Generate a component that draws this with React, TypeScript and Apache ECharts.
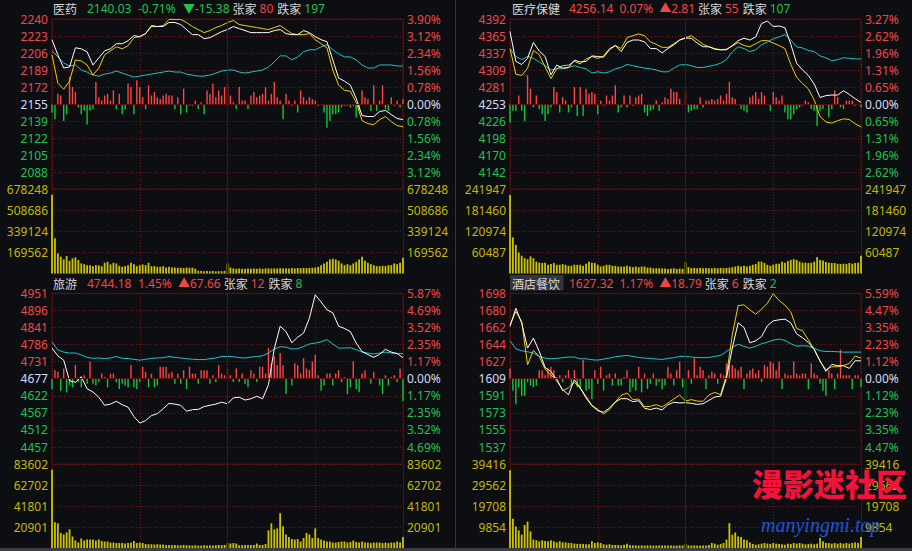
import React, { useEffect, useRef } from "react";
import * as echarts from "echarts";

// ---------- sampling of the intraday session (240 minutes) ----------
const SESSION_MIN = 240;
const LINE_STEP_MIN = 4; // one line point every 4 minutes
const BAR_STEP_MIN = 2; // one bar every 2 minutes

// ================= 医药 =================
const yyTitle = ["医药", "2140.03", "-0.71%", "▼-15.38", "80", "197"];
const yyWhite = [2219, 2204, 2191, 2192, 2211, 2210, 2207, 2194, 2201, 2208, 2210, 2215, 2215, 2218, 2223, 2222, 2225, 2233, 2232, 2232, 2236, 2236, 2234, 2229, 2224, 2224, 2220, 2221, 2224, 2227, 2229, 2232, 2230, 2228, 2226, 2226, 2226, 2226, 2228, 2229, 2225, 2224, 2224, 2228, 2226, 2222, 2219, 2217, 2199, 2181, 2178, 2174, 2161, 2144, 2143, 2143, 2148, 2149, 2145, 2141, 2140];
const yyYellow = [2204, 2176, 2170, 2178, 2199, 2198, 2194, 2184, 2191, 2204, 2208, 2212, 2210, 2213, 2221, 2222, 2225, 2232, 2232, 2233, 2239, 2239, 2239, 2236, 2232, 2229, 2226, 2228, 2231, 2233, 2236, 2238, 2234, 2233, 2232, 2231, 2230, 2229, 2231, 2233, 2229, 2225, 2224, 2224, 2225, 2219, 2215, 2211, 2189, 2174, 2169, 2168, 2157, 2139, 2136, 2135, 2140, 2143, 2138, 2134, 2133];
const yyCyan = [2208, 2202, 2196, 2193, 2194, 2189, 2187, 2184, 2183, 2185, 2186, 2188, 2186, 2184, 2182, 2183, 2184, 2185, 2186, 2187, 2188, 2187, 2187, 2185, 2184, 2183, 2183, 2184, 2186, 2188, 2189, 2189, 2187, 2186, 2187, 2188, 2189, 2192, 2197, 2203, 2203, 2199, 2202, 2207, 2209, 2209, 2212, 2214, 2209, 2205, 2202, 2202, 2199, 2194, 2191, 2191, 2194, 2194, 2194, 2193, 2193];
const yyFlow = [-5, -9, 6, 5, -10, -6, 16, 10, 7, -2, -6, -4, -12, -4, -3, 13, 4, 2, 5, 6, 2, 8, -3, 6, -6, -3, 12, 10, -6, 14, 10, 4, -3, 11, 5, 7, 4, 3, 5, 6, 5, 5, -3, 4, -6, 9, -5, -1, -1, 2, -3, 1, -6, 8, 6, 12, 4, 8, 5, 10, 12, 5, 1, -3, 10, 2, 2, -3, 5, 7, 4, 5, 6, 10, 2, 6, 13, 4, 2, -9, 6, 2, -1, 2, -5, 8, 4, 2, 4, 3, 2, -1, 0, -5, -14, -10, -6, -6, -5, -2, -1, -1, -2, -1, -8, -4, 8, 4, 3, -4, 11, -4, 2, 11, -3, -4, 4, -1, 2, -2, 3];
const yyVolume = [632000, 283000, 161000, 135000, 113000, 140000, 102000, 121000, 129000, 108000, 81000, 75000, 67000, 67000, 59000, 67000, 65000, 59000, 86000, 94000, 73000, 86000, 81000, 62000, 54000, 59000, 67000, 86000, 75000, 59000, 67000, 73000, 67000, 86000, 59000, 59000, 54000, 54000, 59000, 48000, 54000, 48000, 48000, 46000, 46000, 43000, 48000, 46000, 46000, 38000, 22000, 20000, 19000, 21000, 18000, 20000, 17000, 19000, 18000, 20000, 81000, 48000, 40000, 38000, 40000, 37000, 39000, 41000, 38000, 40000, 39000, 41000, 38000, 40000, 42000, 39000, 41000, 40000, 43000, 41000, 42000, 40000, 43000, 41000, 44000, 42000, 45000, 43000, 44000, 46000, 48000, 54000, 67000, 81000, 94000, 113000, 118000, 113000, 102000, 81000, 67000, 75000, 67000, 81000, 94000, 113000, 135000, 102000, 86000, 75000, 67000, 59000, 59000, 62000, 59000, 67000, 67000, 81000, 75000, 86000, 126000];
const yyPriceLabels = ["2240", "2223", "2206", "2189", "2172", "2155", "2139", "2122", "2105", "2088"];
const yyPctLabels = ["3.90%", "3.12%", "2.34%", "1.56%", "0.78%", "0.00%", "0.78%", "1.56%", "2.34%", "3.12%"];
const yyVolLabels = ["678248", "508686", "339124", "169562"];

// ================= 医疗保健 =================
const ylTitle = ["医疗保健", "4256.14", "0.07%", "▲2.81", "55", "107"];
const ylWhite = [4372, 4323, 4318, 4328, 4354, 4340, 4331, 4301, 4317, 4312, 4313, 4325, 4322, 4323, 4332, 4331, 4330, 4342, 4349, 4339, 4354, 4358, 4358, 4355, 4344, 4344, 4337, 4344, 4350, 4358, 4361, 4361, 4353, 4347, 4347, 4343, 4342, 4342, 4349, 4357, 4361, 4358, 4363, 4385, 4389, 4380, 4381, 4378, 4351, 4320, 4309, 4300, 4286, 4264, 4267, 4268, 4268, 4275, 4269, 4262, 4256];
const ylYellow = [4344, 4302, 4300, 4312, 4341, 4334, 4314, 4295, 4311, 4316, 4317, 4323, 4319, 4327, 4331, 4328, 4332, 4344, 4349, 4344, 4362, 4365, 4368, 4365, 4355, 4351, 4346, 4346, 4352, 4358, 4362, 4365, 4358, 4351, 4347, 4344, 4342, 4343, 4348, 4354, 4349, 4347, 4352, 4357, 4357, 4353, 4349, 4344, 4318, 4297, 4287, 4278, 4260, 4233, 4224, 4222, 4226, 4229, 4228, 4221, 4216];
const ylCyan = [4344, 4331, 4326, 4331, 4328, 4322, 4316, 4309, 4311, 4311, 4313, 4316, 4313, 4311, 4304, 4306, 4304, 4306, 4311, 4313, 4318, 4316, 4314, 4312, 4311, 4309, 4306, 4306, 4312, 4317, 4318, 4316, 4313, 4313, 4315, 4317, 4320, 4326, 4339, 4347, 4344, 4339, 4342, 4350, 4355, 4360, 4363, 4367, 4358, 4347, 4345, 4341, 4339, 4332, 4329, 4324, 4326, 4329, 4328, 4327, 4327];
const ylFlow = [-11, -4, -4, 5, -4, -10, 17, 9, -2, 5, -3, -6, -10, -6, -2, 10, 7, -5, 4, 2, -5, -2, 10, -7, 10, -7, 9, 6, 7, 6, -6, 2, -1, 5, 2, 5, 11, -5, -2, 5, -2, 5, -1, 4, 5, 6, -5, -7, -4, -3, 2, -4, 1, 4, 3, 9, 7, 7, 3, 0, 7, -5, -4, -3, -3, 4, -2, 2, 2, 3, 2, 3, 5, 2, 6, 13, 4, 3, 0, -3, -4, -5, 4, 5, 7, 3, 7, 5, 0, -4, 7, 4, 2, 5, -5, -9, -9, -6, -3, -2, -1, 2, 1, -3, -4, -13, -4, -3, 0, -8, -3, 8, 4, -2, -3, 2, 2, 2, -1, 0, -2];
const ylVolume = [225000, 103000, 82000, 60000, 51000, 44000, 41000, 49000, 44000, 34000, 31000, 30000, 31000, 25000, 27000, 30000, 25000, 25000, 27000, 25000, 22000, 22000, 25000, 25000, 25000, 22000, 28000, 34000, 31000, 30000, 25000, 20000, 22000, 25000, 25000, 22000, 22000, 20000, 20000, 20000, 22000, 20000, 18000, 20000, 18000, 20000, 20000, 17000, 17000, 15000, 15000, 15000, 14000, 14000, 13000, 14000, 15000, 13000, 14000, 13000, 32000, 18000, 16000, 16000, 15000, 16000, 15000, 16000, 15000, 15000, 16000, 15000, 16000, 15000, 16000, 17000, 18000, 20000, 22000, 20000, 22000, 20000, 22000, 25000, 27000, 34000, 34000, 30000, 25000, 22000, 25000, 28000, 28000, 34000, 31000, 36000, 39000, 41000, 39000, 34000, 31000, 31000, 30000, 31000, 34000, 47000, 39000, 37000, 33000, 31000, 30000, 30000, 28000, 27000, 28000, 27000, 30000, 28000, 30000, 31000, 51000];
const ylPriceLabels = ["4392", "4365", "4337", "4309", "4281", "4253", "4226", "4198", "4170", "4142"];
const ylPctLabels = ["3.27%", "2.62%", "1.96%", "1.31%", "0.65%", "0.00%", "0.65%", "1.31%", "1.96%", "2.62%"];
const ylVolLabels = ["241947", "181460", "120974", "60487"];

// ================= 旅游 =================
const lyTitle = ["旅游", "4744.18", "1.45%", "▲67.66", "12", "8"];
const lyWhite = [4775, 4750, 4736, 4670, 4665, 4683, 4644, 4634, 4617, 4591, 4595, 4604, 4593, 4585, 4555, 4534, 4542, 4558, 4564, 4580, 4597, 4595, 4591, 4572, 4577, 4578, 4587, 4591, 4595, 4601, 4596, 4615, 4617, 4608, 4612, 4620, 4612, 4657, 4773, 4845, 4828, 4792, 4810, 4823, 4871, 4946, 4923, 4898, 4888, 4845, 4838, 4828, 4791, 4764, 4754, 4745, 4755, 4771, 4762, 4757, 4744];
const lyCyan = [4794, 4769, 4762, 4759, 4759, 4753, 4745, 4742, 4743, 4741, 4743, 4748, 4742, 4741, 4739, 4736, 4739, 4742, 4743, 4744, 4748, 4745, 4743, 4741, 4739, 4738, 4738, 4741, 4743, 4748, 4748, 4747, 4744, 4743, 4746, 4748, 4750, 4759, 4772, 4779, 4778, 4772, 4773, 4780, 4788, 4791, 4795, 4802, 4788, 4775, 4775, 4776, 4770, 4762, 4759, 4756, 4759, 4762, 4759, 4758, 4757];
const lyFlow = [-6, 5, 4, -7, 6, -8, -4, -5, 8, -2, -5, 2, -3, 10, -3, -4, -2, 3, 1, -5, 3, 3, -2, -6, -3, -4, -5, 8, -5, -6, -2, 7, 4, -5, 3, -5, -4, 7, 7, 7, 3, 4, -3, 3, -3, 5, -6, 7, 3, 3, -3, 5, 5, 5, -3, 2, -2, 8, 3, 2, 6, 2, -2, 6, -2, 3, -3, -5, 5, 3, -2, 7, 7, 3, 18, 9, 13, 8, 15, 8, -9, 0, -4, 9, 8, 3, 12, 6, 5, 10, 14, 2, -7, -4, 3, 3, -4, 3, 5, -2, 1, -9, -5, 10, -6, -8, 3, 5, 0, -3, 4, 0, -4, -9, 2, -4, 1, 2, -2, 6, -13];
const lyVolume = [78000, 26000, 25000, 15500, 14000, 16000, 19000, 12000, 8000, 6000, 10000, 8000, 9000, 9000, 9000, 8000, 9000, 7500, 7000, 7000, 6000, 6000, 5500, 5500, 5500, 5000, 5500, 6000, 7500, 5500, 6000, 5500, 4500, 4300, 4300, 4000, 4300, 4000, 4000, 3600, 3600, 3300, 3600, 3300, 3300, 3600, 3300, 3300, 3000, 3300, 3000, 3000, 3300, 3000, 3300, 3000, 3300, 3600, 3300, 3600, 5500, 5000, 5500, 5000, 3300, 3300, 3600, 3600, 3600, 3600, 5000, 3600, 3600, 4500, 18000, 25000, 19000, 20000, 35000, 22000, 14000, 11500, 9500, 9000, 9500, 7000, 10500, 15500, 14000, 10500, 20000, 10500, 9000, 8000, 7000, 7000, 6000, 6000, 6500, 7000, 7000, 6000, 6500, 8000, 6500, 6000, 7000, 6000, 6000, 5500, 6000, 6000, 6000, 5500, 6000, 5500, 6000, 6000, 7000, 6000, 11500];
const lyPriceLabels = ["4951", "4896", "4841", "4786", "4731", "4677", "4622", "4567", "4512", "4457"];
const lyPctLabels = ["5.87%", "4.69%", "3.52%", "2.35%", "1.17%", "0.00%", "1.17%", "2.35%", "3.52%", "4.69%"];
const lyVolLabels = ["83602", "62702", "41801", "20901"];

// ================= 酒店餐饮 =================
const jdTitle = ["酒店餐饮", "1627.32", "1.17%", "▲18.79", "6", "2"];
const jdWhite = [1663.5, 1682.7, 1667, 1640.7, 1651.2, 1637.2, 1620.4, 1616.2, 1606.4, 1597, 1591.7, 1607.5, 1599, 1588.2, 1580.2, 1574.9, 1573.2, 1577.7, 1584, 1587.5, 1587.5, 1584.4, 1585.4, 1577.4, 1576, 1577.7, 1575.6, 1581.2, 1583.7, 1583, 1583.3, 1582.6, 1581.5, 1582.2, 1585.7, 1589.3, 1590, 1609.2, 1640.7, 1667.3, 1662.4, 1646.3, 1648.4, 1652.9, 1664.2, 1669.4, 1670.5, 1671.2, 1667.3, 1655.7, 1651.6, 1646.7, 1639.3, 1627.4, 1616.2, 1623.6, 1622.2, 1622.2, 1619.4, 1627.4, 1627.3];
const jdYellow = [1665.2, 1679.2, 1668.7, 1623.2, 1638.3, 1632, 1618.7, 1612, 1608.5, 1595.9, 1599, 1604.7, 1598.7, 1590, 1580.5, 1576.3, 1571.4, 1576, 1584, 1591, 1593.5, 1586.5, 1587.2, 1579.1, 1579.5, 1581.2, 1578.8, 1583, 1587.2, 1591.4, 1585, 1586.5, 1585, 1584.7, 1591.4, 1594.2, 1591.7, 1612, 1654.7, 1685.5, 1686.2, 1681, 1676.4, 1681.7, 1688, 1698, 1690.8, 1685.9, 1678.9, 1661.4, 1659, 1649.5, 1639.3, 1626.7, 1618, 1621.1, 1621.1, 1622.5, 1624.6, 1632.3, 1630.2];
const jdCyan = [1648.4, 1640, 1637.9, 1636.9, 1635.5, 1632, 1630.2, 1629.5, 1629.9, 1630.6, 1631.3, 1631.3, 1629.5, 1629.5, 1628.5, 1628.1, 1629.2, 1630.2, 1631.6, 1632.3, 1633, 1632, 1630.9, 1630.2, 1629.9, 1629.2, 1628.8, 1629.9, 1630.6, 1632, 1632, 1631.3, 1630.9, 1630.6, 1630.9, 1632, 1633, 1637.2, 1641.4, 1644.9, 1642.5, 1640.7, 1642.5, 1645.3, 1647, 1649.1, 1650.2, 1648.8, 1645.3, 1642.8, 1643.2, 1642.8, 1640.4, 1637.9, 1637.2, 1637.2, 1636.9, 1636.5, 1636.5, 1636.5, 1636.5];
const jdFlow = [6, -7, -15, -5, -10, -10, -2, -4, -5, -4, 5, 5, 2, 6, 7, 5, 1, 2, -2, 2, 5, -4, 5, -5, -6, 11, -7, -6, -12, 5, -3, 7, -7, 2, 3, -4, 3, -4, -4, 1, 5, -8, -5, -7, 7, -8, 3, -6, -3, 3, -4, -2, -6, -4, 7, 3, -4, 5, 10, -5, -13, 5, -3, 12, 2, 7, 5, -6, 2, 4, 3, -3, 3, 2, 9, 8, 8, 6, 5, 7, -6, 3, 5, 6, 3, 5, -2, 8, 7, 10, 9, 5, 10, -6, 3, 2, 2, 10, 3, 2, 3, 3, -6, 9, 3, 2, -3, -7, -10, 5, 3, -6, 3, 17, 2, 2, 2, -6, 2, 2, -5];
const jdVolume = [36500, 13900, 10300, 8500, 6500, 11000, 12600, 8000, 4200, 3900, 3400, 3900, 3500, 3400, 3900, 3400, 2900, 3400, 2900, 2900, 2600, 2600, 2300, 2200, 2200, 2200, 2000, 2000, 3400, 2600, 2900, 2600, 2000, 1800, 2000, 1700, 1700, 1700, 1500, 1800, 2300, 1700, 1500, 1500, 1400, 1500, 1400, 1500, 1500, 1400, 1400, 1500, 1400, 1400, 1400, 1500, 1400, 1400, 1500, 1400, 2300, 1500, 1400, 1500, 1400, 1400, 1500, 1500, 1700, 2600, 2300, 1800, 2200, 2600, 4200, 11900, 6500, 7500, 5700, 5400, 4200, 3900, 2900, 2200, 1800, 2000, 2300, 2600, 2300, 2200, 2600, 2300, 2200, 2000, 1800, 2300, 2200, 2600, 2300, 2600, 2300, 2000, 2200, 2300, 2000, 2300, 4900, 3400, 2600, 2600, 2300, 2600, 2300, 2600, 2300, 2600, 2300, 2600, 2900, 2600, 5400];
const jdPriceLabels = ["1698", "1680", "1662", "1644", "1627", "1609", "1591", "1573", "1555", "1537"];
const jdPctLabels = ["5.59%", "4.47%", "3.35%", "2.23%", "1.12%", "0.00%", "1.12%", "2.23%", "3.35%", "4.47%"];
const jdVolLabels = ["39416", "29562", "19708", "9854"];

// ---------- styling ----------
const C = {
  bg: "#0d0e12",
  border: "#5c0b0b",
  grid: "#7c1515",
  red: "#f04646",
  green: "#1fc24c",
  base: "#d4dbf5",
  volLabel: "#c2b800",
  name: "#d8d8d8",
  white: "#ffffff",
  yellow: "#efcf00",
  cyan: "#1fc4c8",
  barRed: "#ff4444",
  barGreen: "#0fc83c",
  volBar: "#cdc400",
};
const FONT_NUM = "'Noto Sans', 'Noto Sans CJK SC', sans-serif";
const FONT_CJK = "'Noto Sans CJK SC', 'Noto Sans', sans-serif";
const PLOT_W = 351;
const VOL_H = 84.5;
const TITLE_GAPS = [9, 6, 6, 3, 3, 4, 3];

type Panel = {
  title: string[];
  up: boolean;
  selected: boolean;
  left: number;
  top: number;
  priceH: number;
  titleY: number;
  titleX: number[];
  base: number;
  step: number;
  volMax: number;
  white: number[];
  yellow: number[] | null;
  cyan: number[];
  flow: number[];
  volume: number[];
  priceLabels: string[];
  pctLabels: string[];
  volLabels: string[];
};

const panels: Panel[] = [
  {
    title: yyTitle, up: false, selected: false, left: 52, top: 19, priceH: 170, titleY: 8,
    titleX: [53, 87, 138, 183, 232, 258, 274, 301],
    base: 2155.41, step: 16.81, volMax: 678248,
    white: yyWhite, yellow: yyYellow, cyan: yyCyan, flow: yyFlow, volume: yyVolume,
    priceLabels: yyPriceLabels, pctLabels: yyPctLabels, volLabels: yyVolLabels,
  },
  {
    title: ylTitle, up: true, selected: false, left: 510, top: 19, priceH: 170, titleY: 8,
    titleX: [512, 569, 619, 659, 697, 723, 739, 763],
    base: 4253.33, step: 27.81, volMax: 241947,
    white: ylWhite, yellow: ylYellow, cyan: ylCyan, flow: ylFlow, volume: ylVolume,
    priceLabels: ylPriceLabels, pctLabels: ylPctLabels, volLabels: ylVolLabels,
  },
  {
    title: lyTitle, up: true, selected: false, left: 52, top: 293.3, priceH: 170.8, titleY: 283,
    titleX: [53, 87, 138, 178, 221, 248, 263, 290],
    base: 4676.52, step: 54.88, volMax: 83602,
    white: lyWhite, yellow: null, cyan: lyCyan, flow: lyFlow, volume: lyVolume,
    priceLabels: lyPriceLabels, pctLabels: lyPctLabels, volLabels: lyVolLabels,
  },
  {
    title: jdTitle, up: true, selected: true, left: 510, top: 293.3, priceH: 170.8, titleY: 283,
    titleX: [512, 569, 619, 659, 700, 724, 737, 763],
    base: 1608.53, step: 17.97, volMax: 39416,
    white: jdWhite, yellow: jdYellow, cyan: jdCyan, flow: jdFlow, volume: jdVolume,
    priceLabels: jdPriceLabels, pctLabels: jdPctLabels, volLabels: jdVolLabels,
  },
];

let measureCtx: CanvasRenderingContext2D | null = null;
function textWidth(text: string, family: string): number {
  if (!measureCtx) measureCtx = document.createElement("canvas").getContext("2d");
  if (!measureCtx) return text.length * 7;
  measureCtx.font = `12px ${family}`;
  return measureCtx.measureText(text).width;
}

const dotted = { color: C.grid, type: [1, 2] as any, width: 1 };
const solidMark = (d: any) => ({
  silent: true,
  symbol: ["none", "none"],
  label: { show: false },
  lineStyle: { color: C.border, type: "solid", width: 1 },
  emphasis: { disabled: true },
  data: [d],
});

function buildOption() {
  const grid: any[] = [];
  const xAxis: any[] = [];
  const yAxis: any[] = [];
  const series: any[] = [];
  const graphic: any[] = [];

  panels.forEach((p) => {
    const gp = grid.length;
    const xa = xAxis.length;
    const ya = yAxis.length;
    grid.push({
      left: p.left, top: p.top, width: PLOT_W, height: p.priceH,
      show: true, borderColor: C.border, borderWidth: 1, backgroundColor: "transparent",
      containLabel: false, outerBoundsMode: "none",
    });
    grid.push({
      left: p.left, top: p.top + p.priceH, width: PLOT_W, height: VOL_H,
      show: false, containLabel: false, outerBoundsMode: "none",
    });
    const xBase = {
      type: "value", min: 0, max: SESSION_MIN, interval: 60,
      axisLine: { show: false }, axisTick: { show: false }, axisLabel: { show: false },
      splitLine: { show: true, lineStyle: dotted },
    };
    xAxis.push({ ...xBase, gridIndex: gp });
    xAxis.push({ ...xBase, gridIndex: gp + 1 });

    const min = +(p.base - 5 * p.step).toFixed(4);
    const max = +(p.base + 5 * p.step).toFixed(4);
    const colorOf = (_v: any, idx: number) => (idx > 5 ? C.red : idx === 5 ? C.base : C.green);
    const priceAxis = (position: string, labels: string[]) => ({
      type: "value", gridIndex: gp, position, min, max, interval: p.step,
      axisLine: { show: false }, axisTick: { show: false },
      axisLabel: {
        show: true, margin: 4, fontSize: 12, fontFamily: FONT_NUM,
        formatter: (_v: any, idx: number) => labels[10 - idx] ?? "",
        color: colorOf,
        showMinLabel: true, showMaxLabel: true,
      },
      splitLine: position === "left" ? { show: true, lineStyle: dotted } : { show: false },
    });
    yAxis.push(priceAxis("left", p.priceLabels));
    yAxis.push(priceAxis("right", p.pctLabels));
    yAxis.push({ type: "value", gridIndex: gp, min: -50, max: 50, show: false, splitLine: { show: false } });
    const volAxis = (position: string) => ({
      type: "value", gridIndex: gp + 1, position, min: 0, max: p.volMax, interval: p.volMax / 4,
      axisLine: { show: true, lineStyle: { color: C.border, width: 1 } },
      axisTick: { show: false },
      axisLabel: {
        show: true, margin: 4, fontSize: 12, fontFamily: FONT_NUM, color: C.volLabel,
        formatter: (_v: any, idx: number) => (idx === 0 ? "" : p.volLabels[4 - idx] ?? ""),
        showMinLabel: true, showMaxLabel: true,
      },
      splitLine: position === "left" ? { show: true, lineStyle: dotted } : { show: false },
    });
    yAxis.push(volAxis("left"));
    yAxis.push(volAxis("right"));

    series.push({
      type: "bar", xAxisIndex: xa, yAxisIndex: ya + 2, silent: true, barWidth: 1.4,
      data: p.flow.map((v, j) => [j * BAR_STEP_MIN, v]),
      itemStyle: { color: (prm: any) => (prm.value[1] >= 0 ? C.barRed : C.barGreen) },
      markLine: solidMark({ yAxis: 0 }),
    });
    series.push({
      type: "bar", xAxisIndex: xa + 1, yAxisIndex: ya + 3, silent: true, barWidth: 1.8,
      data: p.volume.map((v, j) => [j * BAR_STEP_MIN, v]),
      itemStyle: { color: C.volBar },
      markLine: solidMark({ xAxis: 120 }),
    });
    const line = (data: number[], color: string, extra: any = {}) => ({
      type: "line", xAxisIndex: xa, yAxisIndex: ya, silent: true,
      symbol: "none", showSymbol: false, smooth: false,
      lineStyle: { color, width: 1 },
      data: data.map((v, k) => [k * LINE_STEP_MIN, v]),
      ...extra,
    });
    series.push(line(p.cyan, C.cyan, { markLine: solidMark({ xAxis: 120 }) }));
    if (p.yellow) series.push(line(p.yellow, C.yellow));
    series.push(line(p.white, C.white));

    // title row
    if (p.selected) {
      graphic.push({ type: "rect", shape: { x: p.titleX[0] - 2, y: p.titleY - 8, width: 53.5, height: 15.5 }, style: { fill: "#34353b" }, z: 10 });
    }
    const dirColor = p.up ? C.red : C.green;
    const segs = [
      { t: p.title[0], c: C.name, f: FONT_CJK },
      { t: p.title[1], c: dirColor, f: FONT_NUM },
      { t: p.title[2], c: dirColor, f: FONT_NUM },
      { t: p.title[3], c: dirColor, f: FONT_NUM },
      { t: "张家", c: C.name, f: FONT_CJK },
      { t: p.title[4], c: C.red, f: FONT_NUM },
      { t: "跌家", c: C.name, f: FONT_CJK },
      { t: p.title[5], c: C.green, f: FONT_NUM },
    ];
    let prevEnd = -Infinity;
    segs.forEach((s, k) => {
      const gap = k > 0 ? TITLE_GAPS[k - 1] : 0;
      const x = Math.max(p.titleX[k], prevEnd + gap);
      prevEnd = x + textWidth(s.t, s.f);
      graphic.push({
        type: "text", x, y: p.titleY, z: 11, silent: true,
        style: {
          text: s.t, fill: s.c, fontSize: 12, fontFamily: s.f,
          verticalAlign: "middle", textVerticalAlign: "middle", align: "left",
        },
      });
    });
  });

  // panel divider and bottom bar
  graphic.push({ type: "rect", shape: { x: 455, y: 0, width: 1, height: 548 }, style: { fill: "#33343a" }, z: 5 });
  graphic.push({ type: "rect", shape: { x: 0, y: 548, width: 912, height: 3 }, style: { fill: "#3c3e43" }, z: 20 });
  // watermark
  graphic.push({
    type: "text", x: 752, y: 482, z: 30, silent: true,
    style: {
      text: "漫影迷社区", fill: "#f2123a", fontSize: 31, fontWeight: 900, fontFamily: FONT_CJK,
      verticalAlign: "middle", textVerticalAlign: "middle",
    },
  });
  graphic.push({
    type: "text", x: 761, y: 525, z: 30, silent: true,
    style: {
      text: "manyingmi.top", fill: "#2352d6", fontSize: 20, fontStyle: "italic",
      fontFamily: "'Liberation Serif', 'DejaVu Serif', serif",
      verticalAlign: "middle", textVerticalAlign: "middle",
    },
  });

  return {
    animation: false,
    backgroundColor: C.bg,
    grid, xAxis, yAxis, series, graphic,
  };
}

export default function App() {
  const ref = useRef<HTMLDivElement>(null);
  useEffect(() => {
    document.body.style.margin = "0";
    document.body.style.background = C.bg;
    const chart = echarts.init(ref.current!, undefined, { renderer: "svg", width: 912, height: 551 });
    chart.setOption(buildOption() as any);
    return () => chart.dispose();
  }, []);
  return <div ref={ref} style={{ position: "absolute", left: 0, top: 0, width: 912, height: 551 }} />;
}
